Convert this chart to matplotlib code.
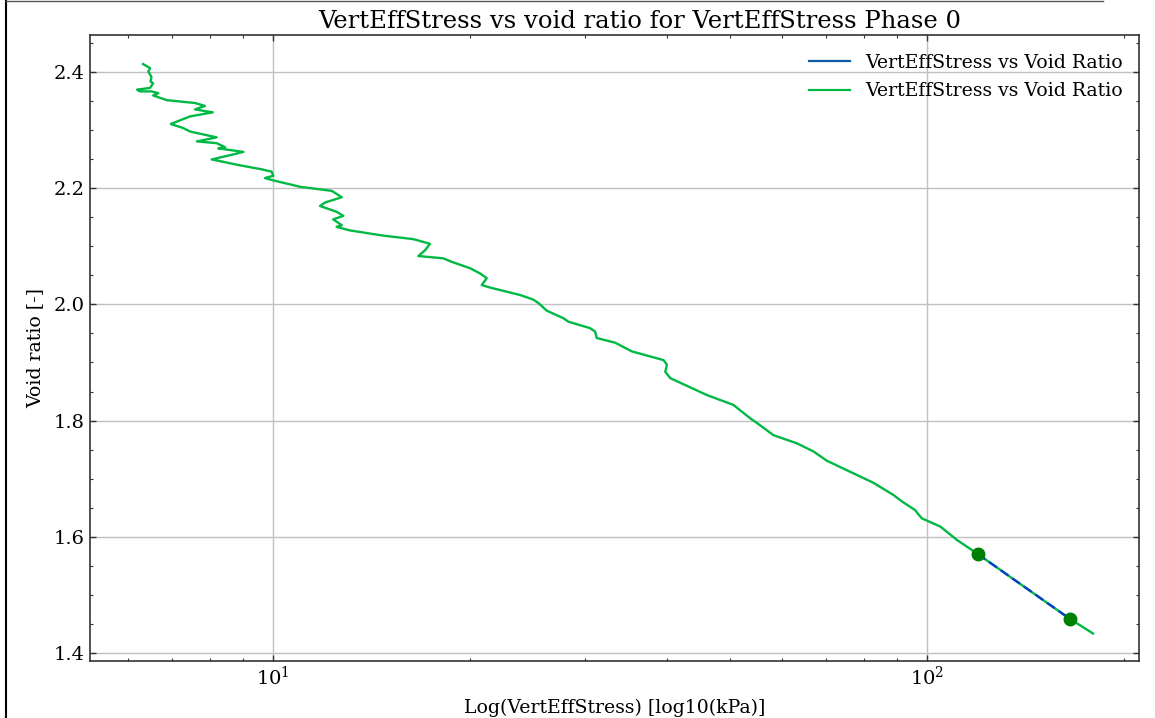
import matplotlib
matplotlib.use('Agg')
import matplotlib.pyplot as plt
from matplotlib.lines import Line2D
from matplotlib.ticker import MultipleLocator
import numpy as np

plt.rcParams['font.family'] = ['DejaVu Serif']
plt.rcParams['mathtext.fontset'] = 'dejavuserif'

# vertical effective stress [kPa] and void ratio
stress = [6.32, 6.48, 6.44, 6.51, 6.49, 6.55, 6.48, 6.19, 6.25, 6.51,
          6.67, 6.55, 6.87, 7.59, 7.86, 7.59, 8.08, 7.46, 6.97, 7.28,
          7.46, 8.19, 7.64, 8.19, 8.44, 8.24, 9.00, 8.64, 8.05, 8.38,
          8.79, 9.60, 9.94, 10.0, 9.71, 10.0, 10.99, 12.29, 12.73, 12.00,
          11.79, 12.50, 12.80, 12.35, 12.73, 12.50, 13.10, 14.74, 16.38, 17.37,
          17.07, 16.67, 18.20, 18.75, 20.00, 20.72, 21.21, 20.84, 21.59, 23.85,
          25.00, 25.45, 26.21, 27.79, 28.29, 30.52, 31.07, 31.25, 33.34, 35.37,
          39.54, 40.02, 39.78, 40.49, 46.06, 50.58, 53.65, 54.93, 58.24, 63.24,
          67.06, 70.30, 76.31, 82.86, 88.9, 91.6, 95.96, 96.7, 98.2, 104.8,
          111.1, 119.5, 139.0, 165.3, 179.5]
void_ratio = [2.413, 2.406, 2.400, 2.391, 2.383, 2.380, 2.372, 2.369, 2.366, 2.366,
              2.363, 2.359, 2.351, 2.346, 2.341, 2.335, 2.330, 2.323, 2.310, 2.303,
              2.297, 2.287, 2.280, 2.277, 2.270, 2.268, 2.262, 2.257, 2.249, 2.245,
              2.240, 2.232, 2.228, 2.221, 2.217, 2.213, 2.202, 2.195, 2.184, 2.175,
              2.169, 2.159, 2.152, 2.146, 2.136, 2.133, 2.127, 2.118, 2.112, 2.104,
              2.093, 2.083, 2.079, 2.073, 2.062, 2.053, 2.045, 2.033, 2.028, 2.016,
              2.008, 2.002, 1.989, 1.976, 1.970, 1.959, 1.953, 1.942, 1.934, 1.919,
              1.904, 1.896, 1.884, 1.873, 1.844, 1.827, 1.804, 1.796, 1.775, 1.761,
              1.747, 1.731, 1.712, 1.693, 1.672, 1.661, 1.646, 1.641, 1.632, 1.618,
              1.595, 1.571, 1.519, 1.4595, 1.434]

# selected segment (end points)
seg_stress = [119.5, 165.3]
seg_void = [1.571, 1.4595]

label = 'VertEffStress vs Void Ratio'

fig = plt.figure(figsize=(11.55, 7.18), dpi=100)
ax = fig.add_axes([0.0779, 0.0794, 0.9082, 0.8719])

ax.plot(stress, void_ratio, color='#00B945', lw=1.7, zorder=2, label='_g')
ax.plot(seg_stress, seg_void, color='#0C3DC8', lw=1.7, zorder=3,
        dashes=(4, 2), label='_b')
ax.plot(seg_stress, seg_void, 'o', color='green', ms=9, zorder=4)

handles = [Line2D([], [], color='#0C5DA5', lw=1.6),
           Line2D([], [], color='#00B945', lw=1.6)]
ax.legend(handles, [label, label], loc='upper right', frameon=False,
          fontsize=13.6, handlelength=2.2, borderaxespad=0.6, labelspacing=0.55,
          bbox_to_anchor=(1.003, 1.0))

ax.set_xscale('log')
ax.set_xlim(5.243, 211)
ax.set_ylim(1.3868, 2.463)
ax.yaxis.set_major_locator(MultipleLocator(0.2))
ax.yaxis.set_minor_locator(MultipleLocator(0.05))
ax.grid(True, which='major', color='#c0c0c0', lw=1)
ax.set_axisbelow(True)

ax.tick_params(which='both', direction='in', top=True, right=True,
               labelsize=14, color='#333333')
ax.tick_params(which='major', length=4, width=1)
ax.tick_params(which='minor', length=2.5, width=0.8)
for s in ax.spines.values():
    s.set_linewidth(1.2)
    s.set_color('#333333')

ax.set_title('VertEffStress vs void ratio for VertEffStress Phase 0', fontsize=17.5,
             pad=5, x=0.524)
ax.set_xlabel('Log(VertEffStress) [log10(kPa)]', fontsize=13.6, labelpad=7)
ax.set_ylabel('Void ratio [-]', fontsize=13.6, labelpad=7)

# screenshot frame edges
fig.add_artist(Line2D([0.0055, 0.0055], [0, 1], color='black', lw=1.5))
fig.add_artist(Line2D([0.0055, 0.955], [0.9985, 0.9985], color='#555555', lw=1))

fig.savefig('out.png', dpi=100)
